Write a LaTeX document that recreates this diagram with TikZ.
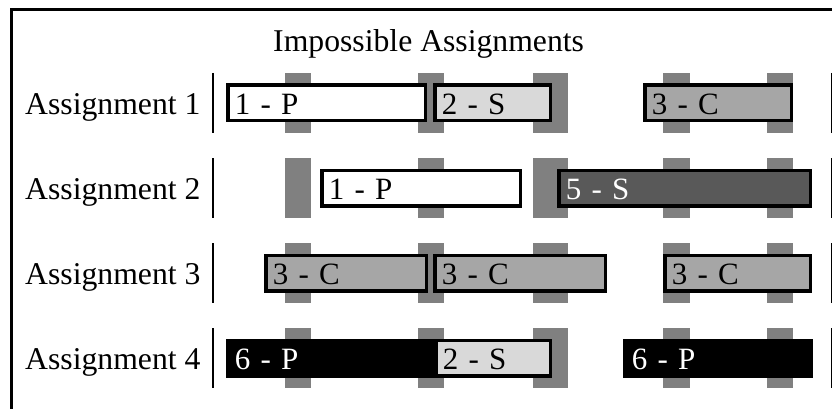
\documentclass[tikz,border=0pt]{standalone}
\usepackage{fontspec}
\setmainfont{Liberation Serif}
\definecolor{tabgray}{HTML}{808080}
\definecolor{lightc}{HTML}{D9D9D9}
\definecolor{midc}{HTML}{A6A6A6}
\definecolor{darkc}{HTML}{595959}
% name, left x, right x, centre y, fill, text colour, text
\newcommand\cell[7]{%
  \pgfmathsetmacro\cellw{#3-#2-3.5}%
  \pgfmathsetmacro\cellt{\cellw-14}%
  \pgfmathsetmacro\cellx{(#2+#3)/2}%
  \node[cellbox, fill=#5, text=#6, minimum width=\cellw pt, text width=\cellt pt] (#1) at (\cellx,#4) {#7};}
\newcommand\tabrow[1]{%
  \foreach \ta/\tb in {285/311,418/444,533/568,663/690,767/793}
    \fill[tabgray] (\ta,#1-30) rectangle (\tb,#1+30);}
\begin{document}
\begin{tikzpicture}[x=1pt,y=-1pt,
  txt/.style={font=\fontsize{31.7}{36}\selectfont, inner sep=0pt},
  cellbox/.style={font=\fontsize{31}{36}\selectfont, draw=black, line width=3.5pt, minimum height=35.5pt,
    inner xsep=7pt, inner ysep=0pt, text height=23pt, text depth=0pt, align=left},
  rowbar/.style={line width=2pt},
  endbar/.style={line width=1.5pt}]
\useasboundingbox (0,0) rectangle (832,409);
% frame
\draw[line width=3pt] (11.3,409) -- (11.3,10) -- (832,10);
% title
\node[txt, anchor=base west] (title) at (273,52) {Impossible Assignments};
% row labels and bars
\foreach \r/\yc in {1/103,2/188,3/273,4/358}{
  \node[txt, anchor=base west] (lab\r) at (25,\yc+11.5) {Assignment \r};
  \draw[rowbar] (213,\yc-30) -- (213,\yc+30);
  \draw[endbar] (831.5,\yc-30) -- (831.5,\yc+30);
  \tabrow{\yc}
}
% row 1
\cell{aa}{226}{427}{103}{white}{black}{1 - P}
\cell{ab}{433}{552}{103}{lightc}{black}{2 - S}
\cell{ac}{643}{793}{103}{midc}{black}{3 - C}
% row 2
\cell{ba}{320}{522}{188}{white}{black}{1 - P}
\cell{bb}{557}{812}{188}{darkc}{white}{5 - S}
% row 3
\cell{ca}{264}{428}{273}{midc}{black}{3 - C}
\cell{cb}{433}{607}{273}{midc}{black}{3 - C}
\cell{cc}{663}{812}{273}{midc}{black}{3 - C}
% row 4
\cell{da}{226}{440}{358}{black}{white}{6 - P}
\cell{db}{434}{552}{358}{lightc}{black}{2 - S}
\cell{dc}{623}{813}{358}{black}{white}{6 - P}
\end{tikzpicture}
\end{document}
